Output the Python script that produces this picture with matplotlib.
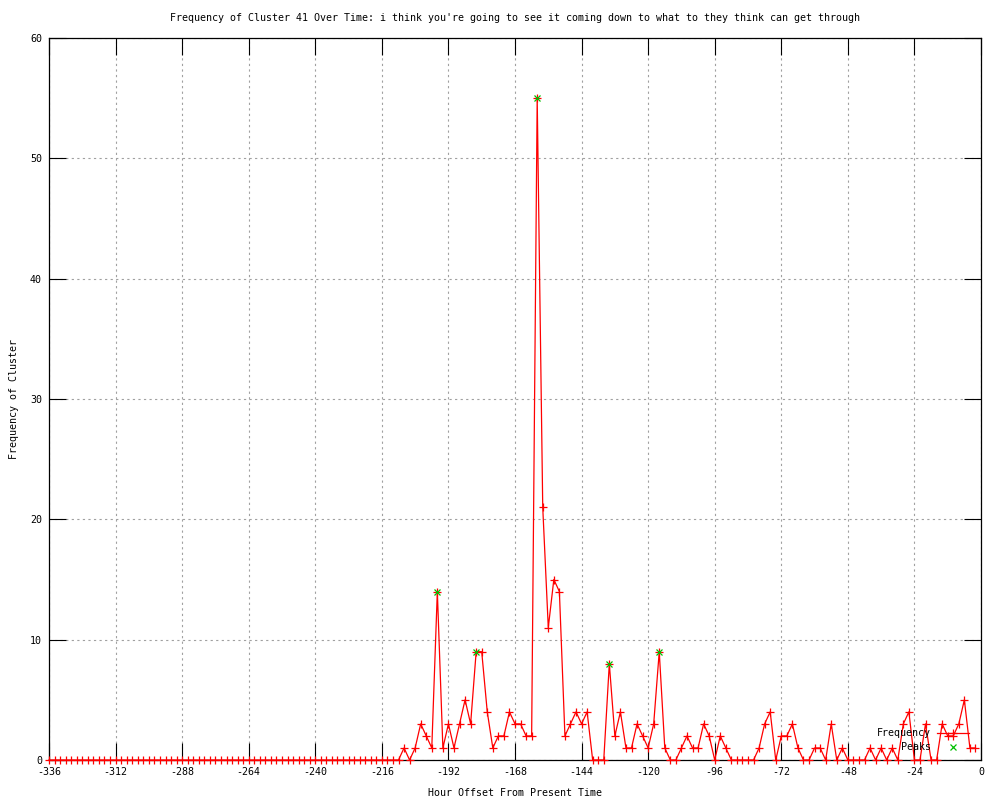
import matplotlib
matplotlib.use("Agg")
import matplotlib.pyplot as plt
import numpy as np

# ---- data ----
hours = list(range(-336, 0, 2))  # -336 ... -2, every 2 hours
frequency = [0] * 64 + [
    1, 0, 1, 3, 2, 1, 14, 1, 3, 1,      # -208 .. -190
    3, 5, 3, 9, 9, 4, 1, 2, 2, 4,       # -188 .. -170
    3, 3, 2, 2, 55, 21, 11, 15, 14, 2,  # -168 .. -150
    3, 4, 3, 4, 0, 0, 0, 8, 2, 4,       # -148 .. -130
    1, 1, 3, 2, 1, 3, 9, 1, 0, 0,       # -128 .. -110
    1, 2, 1, 1, 3, 2, 0, 2, 1, 0,       # -108 .. -90
    0, 0, 0, 0, 1, 3, 4, 0, 2, 2,       # -88 .. -70
    3, 1, 0, 0, 1, 1, 0, 3, 0, 1,       # -68 .. -50
    0, 0, 0, 0, 1, 0, 1, 0, 1, 0,       # -48 .. -30
    3, 4, 0, 0, 3, 0, 0, 3, 2, 2,       # -28 .. -10
    3, 5, 1, 1,                         # -8 .. -2
]
peak_hours = [-196, -182, -160, -134, -116]
peak_values = [14, 9, 55, 8, 9]

x_ticks = list(range(-336, 1, 24))
y_ticks = list(range(0, 61, 10))

title = ("Frequency of Cluster 41 Over Time: i think you're going to see it "
         "coming down to what to they think can get through")

# ---- style ----
FONT = "DejaVu Sans Mono"
FS = 7.2
plt.rcParams["font.family"] = [FONT]

W, H = 1000, 800
L, R, T, B = 49, 981, 38, 760

fig = plt.figure(figsize=(W / 100, H / 100), dpi=100)
ax = fig.add_axes([L / W, (H - B) / H, (R - L) / W, (B - T) / H])

ax.set_xlim(-336, 0)
ax.set_ylim(0, 60)

ax.plot(hours, frequency, color="#ff0000", linewidth=0.9, marker="+",
        markersize=5.5, markeredgewidth=0.9, clip_on=False, zorder=3,
        label="Frequency")
ax.plot(peak_hours, peak_values, linestyle="none", color="#00c000",
        marker="x", markersize=5, markeredgewidth=0.9, clip_on=False,
        zorder=4, label="Peaks")

ax.set_xticks(x_ticks)
ax.set_xticklabels([str(v) for v in x_ticks])
ax.set_yticks(y_ticks)
ax.set_yticklabels([str(v) for v in y_ticks])

ax.tick_params(axis="both", direction="in", length=12, width=0.8,
               labelsize=FS, top=True, right=True, color="black")
ax.tick_params(axis="x", pad=5)
ax.tick_params(axis="y", pad=5)

ax.grid(True, color="#a0a0a0", linestyle=(0, (2, 3)), linewidth=0.8)
ax.set_axisbelow(True)

for sp in ax.spines.values():
    sp.set_linewidth(0.9)
    sp.set_color("black")

fig.text((L + R) / 2 / W, 1 - 18 / H, title, ha="center", va="center",
         fontsize=FS)
ax.set_xlabel("Hour Offset From Present Time", fontsize=FS)
ax.xaxis.set_label_coords(0.5, (B - 788) / (B - T))
ax.set_ylabel("Frequency of Cluster", fontsize=FS)
ax.yaxis.set_label_coords((19 - L) / (R - L), 0.5)

leg = ax.legend(loc="lower right",
                bbox_to_anchor=((969 - L) / (R - L), (B - 752) / (B - T)),
                frameon=False, markerfirst=False, fontsize=FS,
                handlelength=3.2, handletextpad=0.6, labelspacing=0.35,
                borderpad=0, borderaxespad=0)

fig.savefig("out.png", dpi=100)
